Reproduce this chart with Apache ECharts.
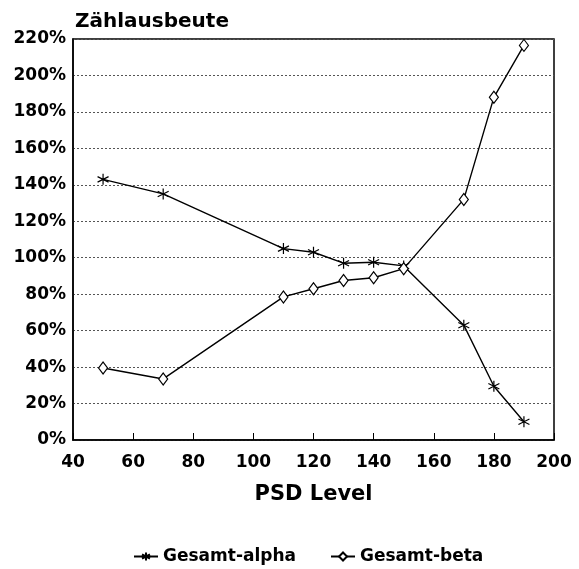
<!DOCTYPE html>
<html>
<head>
<meta charset="utf-8">
<script src="https://cdn.jsdelivr.net/npm/echarts@6/dist/echarts.min.js"></script>
<style>html,body{margin:0;padding:0;background:#fff}#c{width:579px;height:569px}</style>
</head>
<body>
<div id="c"></div>
<script>
const psdLevels = [50, 70, 110, 120, 130, 140, 150, 170, 180, 190];
const alphaValues = [143, 135, 105, 103, 97, 97.5, 95.5, 63, 29.5, 10];
const betaValues = [39.5, 33.5, 78.5, 83, 87.5, 89, 94, 132, 188, 216.5];
const seriesNames = ['Gesamt-alpha', 'Gesamt-beta'];
const yTicks = [0, 20, 40, 60, 80, 100, 120, 140, 160, 180, 200, 220];

const starPath = 'path://M5,0 L5,10 M0.7,2.5 L9.3,7.5 M0.7,7.5 L9.3,2.5';
const font = '"DejaVu Sans", Verdana, sans-serif';

const chart = echarts.init(document.getElementById('c'), null, {renderer: 'canvas'});
chart.setOption({
  backgroundColor: '#fff',
  animation: false,
  title: {
    text: 'Zählausbeute', left: 70, top: 7,
    textStyle: {fontFamily: font, fontSize: 20, fontWeight: 'bold', color: '#000'}
  },
  grid: {left: 73, right: 25, top: 39, bottom: 129, show: true, borderColor: '#000', borderWidth: 1.5, backgroundColor: 'transparent'},
  legend: {
    top: 543, left: 128, itemGap: 34, itemWidth: 24, itemHeight: 10,
    textStyle: {fontFamily: font, fontSize: 17, fontWeight: 'bold', color: '#000'},
    data: seriesNames
  },
  xAxis: {
    type: 'value', min: 40, max: 200, interval: 20,
    name: 'PSD Level', nameLocation: 'middle', nameGap: 44,
    nameTextStyle: {fontFamily: font, fontSize: 21, fontWeight: 'bold', color: '#000'},
    axisLine: {show: true, lineStyle: {color: '#000', width: 1.5}},
    axisTick: {show: true, inside: true, length: 7, lineStyle: {color: '#000', width: 1}},
    axisLabel: {fontFamily: font, fontSize: 17, fontWeight: 'bold', color: '#000', margin: 14},
    splitLine: {show: false}
  },
  yAxis: {
    type: 'value', min: 0, max: 220, interval: 20,
    axisLine: {show: true, lineStyle: {color: '#000', width: 1.5}},
    axisTick: {show: false},
    axisLabel: {fontFamily: font, fontSize: 17, fontWeight: 'bold', color: '#000', margin: 7,
      formatter: v => yTicks.includes(v) ? v + '%' : ''},
    splitLine: {show: true, lineStyle: {color: '#555', width: 1, type: [2, 2]}}
  },
  series: [
    {
      name: seriesNames[0], type: 'line',
      data: psdLevels.map((x, i) => [x, alphaValues[i]]),
      symbol: starPath, symbolSize: 11, showAllSymbol: true,
      lineStyle: {color: '#000', width: 1.4},
      itemStyle: {color: 'none', borderColor: '#000', borderWidth: 1.2}
    },
    {
      name: seriesNames[1], type: 'line',
      data: psdLevels.map((x, i) => [x, betaValues[i]]),
      symbol: 'diamond', symbolSize: [9, 12], showAllSymbol: true,
      lineStyle: {color: '#000', width: 1.4},
      itemStyle: {color: '#fff', borderColor: '#000', borderWidth: 1.2}
    }
  ]
});
</script>
</body>
</html>
